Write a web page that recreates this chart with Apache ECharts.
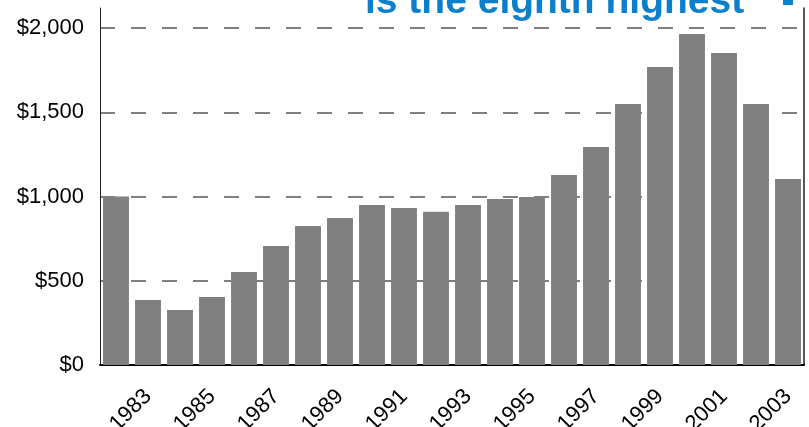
<!DOCTYPE html>
<html>
<head>
<meta charset="utf-8">
<script src="https://cdn.jsdelivr.net/npm/echarts@6/dist/echarts.min.js"></script>
<style>html,body{margin:0;padding:0;background:#fff}#c{width:809px;height:427px}</style>
</head>
<body>
<div id="c"></div>
<script>
var years = ['1982','1983','1984','1985','1986','1987','1988','1989','1990','1991','1992','1993','1994','1995','1996','1997','1998','1999','2000','2001','2002','2003'];
var values = [1000,386,326,403,552,706,825,872,950,932,910,950,985,997,1128,1294,1549,1769,1964,1852,1549,1104];
var yTicks = [0,500,1000,1500,2000];
var titleText = 'is the eighth highest';

var chart = echarts.init(document.getElementById('c'));
chart.setOption({
  animation: false,
  backgroundColor: '#fff',
  title: {
    text: titleText, left: 365, top: -17, padding: 0,
    textStyle: {fontFamily: 'Liberation Sans', fontSize: 39, fontWeight: 'bold', color: '#0a7fcc'}
  },
  graphic: [{type: 'rect', shape: {x: 783, y: 0, width: 10, height: 5}, style: {fill: '#0a7fcc'}}],
  grid: {left: 100, right: 5, top: 8, bottom: 62, containLabel: false, outerBoundsMode: 'none'},
  xAxis: {
    type: 'category', data: years,
    axisLine: {lineStyle: {color: '#000', width: 2}},
    axisTick: {show: false},
    axisLabel: {
      interval: function (i) { return i % 2 === 1; },
      rotate: 45, margin: 28,
      fontFamily: 'Liberation Sans', fontSize: 22, color: '#000'
    }
  },
  yAxis: [{
    type: 'value', min: 0, max: 2119,
    axisLine: {show: true, lineStyle: {color: '#222', width: 1}},
    axisTick: {show: false, customValues: yTicks},
    axisLabel: {
      customValues: yTicks, margin: 16,
      fontFamily: 'Liberation Sans', fontSize: 22, color: '#000',
      formatter: function (v) { return '$' + v.toLocaleString('en-US'); }
    },
    splitLine: {show: true, lineStyle: {color: '#555', width: 1.5, type: [15, 16]}}
  }, {
    type: 'value', min: 0, max: 2119, position: 'right',
    axisLine: {show: true, lineStyle: {color: '#222', width: 1.5}},
    axisTick: {show: false}, axisLabel: {show: false}, splitLine: {show: false}
  }],
  series: [{
    type: 'bar', data: values, yAxisIndex: 0,
    barCategoryGap: '19%',
    itemStyle: {color: '#808080'}
  }]
});
</script>
</body>
</html>
